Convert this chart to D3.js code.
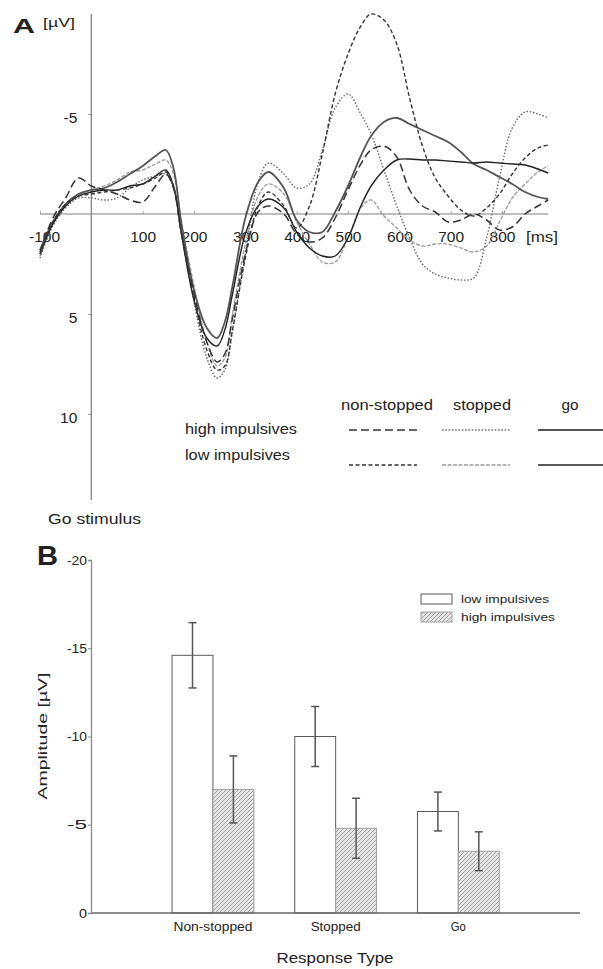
<!DOCTYPE html>
<html>
<head>
<meta charset="utf-8">
<script src="https://cdn.jsdelivr.net/npm/d3@7"></script>
<style>
  body { margin: 0; background: #fff; }
  svg { display: block; }
  text { font-family: "Liberation Sans", Arial, sans-serif; fill: #222; }
</style>
</head>
<body>
<svg id="fig" width="603" height="969"></svg>
<script>
// ---- Panel A : ERP (µV, negative up) ----
const temps = [-100,-75,-50,-25,0,25,50,75,100,125,145,160,175,200,225,245,260,275,300,325,345,375,400,425,450,475,500,525,545,570,595,620,645,670,695,720,745,770,795,820,845,870,890];

const highNonStopped = [1.9,0.2,-0.8,-1.8,-1.4,-1.2,-1.0,-0.7,-0.6,-1.4,-2.0,-1.3,0.9,4.0,6.4,7.4,7.0,5.2,2.0,-0.1,-0.4,0.0,1.0,1.4,1.2,0.2,-1.2,-2.5,-3.2,-3.4,-2.85,-1.2,-0.4,-0.1,0.4,0.3,0.0,0.3,0.8,0.65,0.0,-0.4,-0.7];
const lowNonStopped  = [2.0,0.4,-0.5,-0.9,-1.0,-1.1,-1.2,-1.3,-1.5,-1.8,-2.1,-1.4,0.9,4.2,6.8,7.8,7.6,5.8,2.2,-0.4,-1.1,-0.4,0.7,-0.4,-3.0,-6.0,-8.0,-9.4,-10.0,-9.7,-8.5,-5.8,-3.4,-1.8,-0.9,-0.2,0.1,-0.3,-1.0,-2.0,-2.8,-3.3,-3.45];
const highStopped    = [2.2,0.6,-0.3,-0.8,-0.8,-0.7,-0.8,-1.3,-1.7,-1.9,-2.0,-1.3,0.9,4.4,7.2,8.2,7.8,5.8,2.0,-1.6,-2.55,-2.0,-1.3,-1.5,-3.2,-5.3,-6.0,-5.0,-4.0,-2.2,-0.4,1.2,2.5,3.0,3.2,3.3,3.2,1.2,-1.8,-4.3,-5.1,-5.0,-4.8];
const lowStopped     = [2.1,0.5,-0.5,-1.0,-1.2,-1.4,-1.7,-2.1,-2.2,-2.5,-2.7,-2.0,0.3,3.6,6.4,7.6,7.2,5.0,1.5,-0.9,-1.5,-1.0,0.4,1.5,2.4,2.4,1.2,-0.3,-0.7,0.1,0.7,1.3,1.6,1.5,1.5,1.7,1.9,1.6,0.4,-0.8,-1.5,-2.1,-2.4];
const highGo         = [1.8,0.4,-0.5,-1.0,-1.2,-1.3,-1.6,-2.0,-2.4,-2.9,-3.2,-2.3,0.4,3.8,5.7,6.2,5.4,3.6,0.2,-1.6,-2.1,-1.3,0.3,0.9,0.9,-0.1,-1.4,-2.9,-3.9,-4.6,-4.8,-4.5,-4.2,-3.9,-3.6,-3.1,-2.5,-2.2,-1.85,-1.5,-1.1,-0.85,-0.75];
const lowGo          = [2.0,0.5,-0.4,-0.9,-1.1,-1.2,-1.2,-1.4,-1.5,-1.9,-2.2,-1.4,0.9,4.3,6.2,6.6,5.8,4.0,1.0,-0.4,-0.75,-0.3,0.9,1.7,2.1,2.1,1.2,-0.4,-1.4,-2.2,-2.7,-2.75,-2.7,-2.7,-2.65,-2.6,-2.55,-2.6,-2.55,-2.5,-2.45,-2.25,-2.05];

const msTicks = [-100,100,200,300,400,500,600,700,800];
const uvTicks = [-5,5,10];
const legendCols = ["non-stopped","stopped","go"];
const legendRows = ["high impulsives","low impulsives"];

// ---- Panel B : bars ----
const categories = ["Non-stopped","Stopped","Go"];
const groupes = ["low impulsives","high impulsives"];
const lowMeans  = [-14.6,-10.0,-5.75];
const lowErr    = [1.85,1.7,1.1];
const highMeans = [-7.0,-4.8,-3.5];
const highErr   = [1.9,1.7,1.1];
const ampTicks = [0,-5,-10,-15,-20];

const svg = d3.select("#fig");

// petite fonction pour les textes
function txt(g, x, y, s, size, len, anchor, weight) {
  const t = g.append("text")
    .attr("x", x).attr("y", y)
    .attr("font-size", size)
    .attr("text-anchor", anchor || "start")
    .attr("font-weight", weight || "normal")
    .text(s);
  if (len) t.attr("textLength", len).attr("lengthAdjust", "spacingAndGlyphs");
  return t;
}

// styles des courbes
const styles = [
  {vals: lowStopped,     color: "#9a9a9a", width: 1.3, dash: "4,1.5"},
  {vals: highStopped,    color: "#666",    width: 1.4, dash: "1.5,1.8"},
  {vals: highGo,         color: "#555",    width: 1.8, dash: null},
  {vals: lowGo,          color: "#222",    width: 1.4, dash: null},
  {vals: highNonStopped, color: "#333",    width: 1.5, dash: "8,4"},
  {vals: lowNonStopped,  color: "#333",    width: 1.4, dash: "4,2.5"}
];

// ===== Panel A =====
const x = d3.scaleLinear().domain([-100, 800]).range([40, 502]);
const y = d3.scaleLinear().domain([-10, 10]).range([14, 414]);

const gA = svg.append("g");

// ligne zéro + axe des temps
gA.append("line")
  .attr("x1", x(-100)).attr("x2", x(890))
  .attr("y1", y(0)).attr("y2", y(0))
  .attr("stroke", "#a8a8a8").attr("stroke-width", 1.6);

const axeX = gA.append("g")
  .attr("transform", `translate(0,${y(0)})`)
  .call(d3.axisBottom(x).tickValues(msTicks).tickSizeInner(-3).tickSizeOuter(0).tickPadding(17).tickFormat(d => String(d)));
axeX.select(".domain").remove();
axeX.selectAll(".tick line").attr("stroke", "#a8a8a8");
axeX.selectAll(".tick text")
  .attr("font-size", 15.5).attr("fill", "#222")
  .attr("font-family", "Liberation Sans, Arial, sans-serif")
  .attr("dx", d => d < 0 ? 4 : 0);
txt(gA, 542, y(0) + 28, "[ms]", 15.5, 32, "middle");

// axe vertical µV
gA.append("line")
  .attr("x1", x(0)).attr("x2", x(0))
  .attr("y1", y(-10)).attr("y2", y(14.3))
  .attr("stroke", "#8a8a8a").attr("stroke-width", 1.4);
const axeY = gA.append("g")
  .attr("transform", `translate(${x(0)},0)`)
  .call(d3.axisLeft(y).tickValues(uvTicks).tickSize(3).tickPadding(11).tickFormat(d => String(d)));
axeY.select(".domain").remove();
axeY.selectAll(".tick line").attr("stroke", "#8a8a8a");
axeY.selectAll(".tick text")
  .attr("font-size", 15.5).attr("fill", "#222")
  .attr("font-family", "Liberation Sans, Arial, sans-serif")
  .attr("dy", "0.55em");

txt(gA, 13, 33, "A", 21, 22, "start", "bold");
txt(gA, 43, 27, "[µV]", 13, 32);
txt(gA, 48, 524, "Go stimulus", 15, 93);

// courbes
const ligne = d3.line()
  .x((d, i) => x(temps[i]))
  .y(d => y(d))
  .curve(d3.curveCatmullRom.alpha(0.5));

styles.forEach(s => {
  gA.append("path")
    .attr("d", ligne(s.vals))
    .attr("fill", "none")
    .attr("stroke", s.color)
    .attr("stroke-width", s.width)
    .attr("stroke-dasharray", s.dash);
});

// légende A
const colX = [387, 482, 570];
const colLine = [[349, 417], [442, 510], [538, 603]];
const colLen = [92, 58, 17];
legendCols.forEach((c, i) => txt(gA, colX[i], 410, c, 15, colLen[i], "middle"));
legendRows.forEach((r, i) => txt(gA, 185, i === 0 ? 434 : 460, r, 15, i === 0 ? 112 : 105));
const legStyles = [
  [styles[4], styles[1], styles[2]],
  [styles[5], styles[0], styles[3]]
];
legStyles.forEach((row, j) => {
  row.forEach((s, i) => {
    gA.append("line")
      .attr("x1", colLine[i][0]).attr("x2", colLine[i][1])
      .attr("y1", j === 0 ? 430 : 465).attr("y2", j === 0 ? 430 : 465)
      .attr("stroke", s.color)
      .attr("stroke-width", s.width + (i === 2 && j === 0 ? 0.4 : 0))
      .attr("stroke-dasharray", s.dash);
  });
});

// ===== Panel B =====
const gB = svg.append("g");

const defs = svg.append("defs");
const pat = defs.append("pattern")
  .attr("id", "hachure")
  .attr("patternUnits", "userSpaceOnUse")
  .attr("width", 4).attr("height", 4);
pat.append("rect").attr("width", 4).attr("height", 4).attr("fill", "#e6e6e6");
pat.append("path")
  .attr("d", "M-1,1 l2,-2 M0,4 l4,-4 M3,5 l2,-2")
  .attr("stroke", "#8c8c8c").attr("stroke-width", 0.8);

const xB = d3.scaleBand().domain(categories).range([151.6, 519.7]);
const xSub = d3.scaleBand().domain(groupes).range([0, xB.bandwidth()]).paddingOuter(0.5);
const yB = d3.scaleLinear().domain([0, -20]).range([913, 560]);

const barres = [];
categories.forEach((c, i) => {
  barres.push({cat: c, grp: groupes[0], v: lowMeans[i], e: lowErr[i]});
  barres.push({cat: c, grp: groupes[1], v: highMeans[i], e: highErr[i]});
});

gB.selectAll("rect.barre")
  .data(barres)
  .enter().append("rect")
  .attr("class", "barre")
  .attr("x", d => xB(d.cat) + xSub(d.grp))
  .attr("y", d => yB(d.v))
  .attr("width", xSub.bandwidth())
  .attr("height", d => yB(0) - yB(d.v))
  .attr("fill", d => d.grp === groupes[0] ? "#fff" : "url(#hachure)")
  .attr("stroke", d => d.grp === groupes[0] ? "#5a5a5a" : "#a0a0a0")
  .attr("stroke-width", 1);

// barres d'erreur
const eb = gB.selectAll("g.err")
  .data(barres)
  .enter().append("g")
  .attr("class", "err")
  .attr("stroke", "#555")
  .attr("stroke-width", 1.5);
eb.append("line")
  .attr("x1", d => xB(d.cat) + xSub(d.grp) + xSub.bandwidth() / 2)
  .attr("x2", d => xB(d.cat) + xSub(d.grp) + xSub.bandwidth() / 2)
  .attr("y1", d => yB(d.v - d.e))
  .attr("y2", d => yB(d.v + d.e));
[-1, 1].forEach(sgn => {
  eb.append("line")
    .attr("x1", d => xB(d.cat) + xSub(d.grp) + xSub.bandwidth() / 2 - 4)
    .attr("x2", d => xB(d.cat) + xSub(d.grp) + xSub.bandwidth() / 2 + 4)
    .attr("y1", d => yB(d.v + sgn * d.e))
    .attr("y2", d => yB(d.v + sgn * d.e));
});

// axes B
gB.append("line")
  .attr("x1", 91).attr("x2", 580)
  .attr("y1", yB(0)).attr("y2", yB(0))
  .attr("stroke", "#666").attr("stroke-width", 1.5);
const axeB = gB.append("g")
  .attr("transform", "translate(91,0)")
  .call(d3.axisLeft(yB).tickValues(ampTicks).tickSize(3).tickPadding(1).tickFormat(d => String(d)));
axeB.select(".domain").attr("stroke", "#8a8a8a").attr("stroke-width", 1.3);
axeB.selectAll(".tick line").attr("stroke", "#8a8a8a");
axeB.selectAll(".tick text")
  .attr("font-size", 12.5).attr("fill", "#222")
  .attr("font-family", "Liberation Sans, Arial, sans-serif")
  .attr("textLength", d => d === 0 ? 8 : 20)
  .attr("lengthAdjust", "spacingAndGlyphs");

txt(gB, 37, 565, "B", 27, 21, "start", "bold");

const catLen = [79, 50, 15];
categories.forEach((c, i) => txt(gB, xB(c) + xB.bandwidth() / 2, 931, c, 12, catLen[i], "middle"));
txt(gB, 335, 963, "Response Type", 14, 117, "middle");
txt(gB, 0, 0, "Amplitude [µV]", 13, 127, "middle")
  .attr("transform", "translate(47,736) rotate(-90)");

// légende B
const legB = gB.append("g");
legB.append("rect").attr("x", 421).attr("y", 594).attr("width", 31).attr("height", 10)
  .attr("fill", "#fff").attr("stroke", "#5a5a5a");
legB.append("rect").attr("x", 421).attr("y", 612).attr("width", 31).attr("height", 10)
  .attr("fill", "url(#hachure)").attr("stroke", "#a0a0a0");
txt(legB, 461, 603, groupes[0], 11.5, 88);
txt(legB, 461, 621, groupes[1], 11.5, 94);
</script>
</body>
</html>
